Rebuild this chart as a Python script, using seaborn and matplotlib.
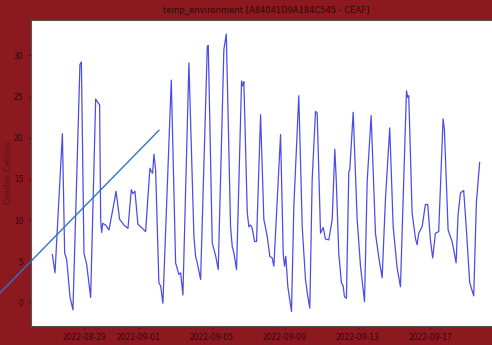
import pandas as pd
import matplotlib
matplotlib.use("Agg")
import matplotlib.pyplot as plt
import matplotlib.dates as mdates
import seaborn as sns

# ---------------------------
# Data (hours from 2022-08-29 00:00, temperature in C)
# ---------------------------
base_day = pd.Timestamp("2022-08-29")

hours = [
    -41.6, -38.1, -28.4, -25.4, -22.7, -18.4, -14.5, -5.3, -3.4,
    0.0, 3.6, 8.8, 15.4, 18.9, 20.6, 22.0, 23.3, 24.6, 28.5, 32.9,
    40.4, 42.1, 43.9, 46.9, 52.6, 57.9, 62.3, 64.4, 67.1, 71.0, 74.6, 81.1,
    86.8, 88.6, 90.3, 92.1, 94.3, 98.6, 100.9, 103.9,
    114.9, 120.6, 124.9, 127.2, 130.2,
    138.1, 144.7, 146.9, 149.1, 153.5,
    162.3, 163.6, 168.8, 173.2, 176.7,
    184.1, 187.3, 192.9, 195.1, 197.3, 200.8,
    207.4, 209.1, 210.4, 214.9, 217.0, 219.2, 221.4, 224.5, 227.1,
    232.4, 236.7, 241.2, 244.6, 247.7, 249.9,
    254.3, 258.7, 262.2, 263.9, 265.6, 268.3, 273.1,
    276.2, 282.7, 287.2, 291.5, 293.8, 297.2,
    300.3, 304.7, 306.9, 311.3, 314.8, 317.8, 322.2, 326.7,
    330.1, 331.9, 335.3, 338.8, 341.1, 342.8, 345.4,
    348.5, 349.8, 354.3, 359.5, 363.9, 369.2,
    372.7, 377.9, 383.6, 387.9, 392.4,
    396.7, 402.4, 406.9, 412.1, 416.5,
    424.4, 426.1, 427.4, 431.8, 436.2, 438.4, 440.5, 445.0, 449.3, 452.4,
    455.9, 458.9, 462.5, 466.8,
    472.6, 474.3, 479.2, 484.4, 486.6, 489.7,
    492.3, 495.4, 499.7, 503.3, 507.6, 512.9,
    516.4, 520.7,
]

temps = [
    5.8, 3.6, 20.5, 6.0, 5.2, 0.7, -0.9, 28.9, 29.2,
    6.0, 4.6, 0.6, 24.7, 24.2, 24.0, 10.0, 8.5, 9.6, 9.4, 8.8,
    12.5, 13.5, 12.3, 10.1, 9.4, 9.0, 13.7, 13.2, 13.5, 9.5, 9.2, 8.6,
    16.3, 15.9, 15.7, 18.0, 16.1, 2.4, 2.0, -0.1,
    27.0, 4.8, 3.4, 3.6, 0.9,
    29.1, 8.0, 5.6, 4.8, 2.8,
    31.1, 31.2, 7.2, 5.7, 4.0,
    30.7, 32.6, 9.2, 6.8, 6.0, 4.0,
    26.9, 26.3, 26.8, 10.9, 9.2, 9.4, 9.0, 7.4, 7.4,
    22.8, 10.1, 8.0, 5.6, 5.4, 4.4,
    12.5, 20.4, 6.0, 4.4, 5.6, 1.9, -1.1,
    11.7, 25.1, 9.2, 2.8, 1.2, -0.7,
    14.9, 23.2, 23.0, 8.4, 9.1, 7.7, 7.6, 10.1,
    18.6, 15.1, 6.0, 2.4, 2.0, 0.7, 0.5,
    15.9, 16.1, 23.1, 10.1, 4.4, 0.1,
    14.7, 22.7, 8.4, 5.5, 3.0,
    12.5, 21.2, 9.2, 4.2, 1.9,
    25.7, 24.9, 25.1, 10.9, 7.8, 7.0, 8.4, 9.2, 11.9, 11.9,
    7.6, 5.4, 8.4, 8.6,
    22.3, 21.0, 8.8, 7.4, 6.4, 4.8,
    10.6, 13.3, 13.6, 8.8, 2.4, 0.8,
    12.1, 17.0,
]

# straight guide line that runs off the axes on the left
trend_hours = [-110.0, 98.6]
trend_temps = [1.2, 20.9]

tick_days = ["2022-08-29", "2022-09-01", "2022-09-05",
             "2022-09-09", "2022-09-13", "2022-09-17"]

df = pd.DataFrame({
    "time": base_day + pd.to_timedelta(hours, unit="h"),
    "temp": temps,
})
trend = pd.DataFrame({
    "time": base_day + pd.to_timedelta(trend_hours, unit="h"),
    "temp": trend_temps,
})

# ---------------------------
# Plot
# ---------------------------
bg = "#8c1820"
fig = plt.figure(figsize=(4.92, 3.45), dpi=100, facecolor=bg)
ax = fig.add_axes([31 / 492, 1 - 325.5 / 345, 470 / 492, 305.5 / 345])
ax.set_facecolor("white")

sns.lineplot(data=df, x="time", y="temp", ax=ax, color="#1f1fe6",
             alpha=0.8, linewidth=0.9)
ax.plot(trend["time"], trend["temp"], color="#3274c6", linewidth=1.0,
        clip_on=False)

ax.set_xlim(base_day + pd.Timedelta(hours=-69.7),
            base_day + pd.Timedelta(hours=548.8))
ax.set_ylim(-2.8, 34.3)
ax.set_xticks(pd.to_datetime(tick_days))
ax.xaxis.set_major_formatter(mdates.DateFormatter("%Y-%m-%d"))
ax.set_yticks([0, 5, 10, 15, 20, 25, 30])

ax.set_title("temp_environment [A84041D9A184C545 - CEAF]", fontsize=6,
             color="#2a0a0a", pad=5)
ax.set_xlabel("")
ax.set_ylabel("Grados Celcius", fontsize=6, color="#5c0e14")
ax.yaxis.set_label_coords(-0.038, 0.5)
ax.tick_params(labelsize=5.5, colors="#2a0a0a", length=2, width=0.5)
for s in ax.spines.values():
    s.set_color("#555555")
    s.set_linewidth(0.8)

fig.savefig("out.png", dpi=100, facecolor=bg)
